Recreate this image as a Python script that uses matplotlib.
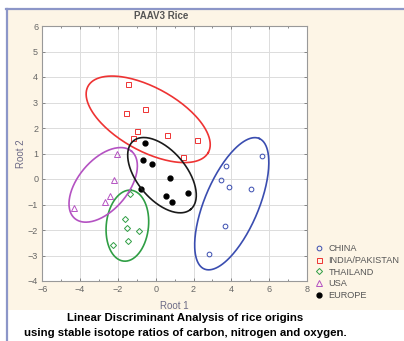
import matplotlib.pyplot as plt
import numpy as np
from matplotlib.patches import Rectangle
from matplotlib.lines import Line2D

plt.rcParams['font.family'] = ['Liberation Sans', 'DejaVu Sans']

# group scores on the two discriminant roots
china_x = [5.62, 3.72, 3.47, 3.88, 5.04, 3.68, 2.80]
china_y = [0.90, 0.50, -0.05, -0.31, -0.40, -1.83, -2.95]
india_x = [-1.48, -1.55, -0.56, -1.00, -1.18, 0.59, 2.20, 1.46]
india_y = [3.72, 2.60, 2.74, 1.88, 1.62, 1.71, 1.52, 0.87]
thai_x = [-1.34, -1.60, -1.51, -0.91, -1.49, -2.27]
thai_y = [-0.60, -1.55, -1.93, -2.05, -2.42, -2.57]
usa_x = [-2.04, -2.20, -2.40, -2.71, -4.32]
usa_y = [0.97, -0.05, -0.65, -0.92, -1.12]
europe_x = [-0.56, -0.70, -0.19, 0.75, -0.77, 0.54, 0.84, 1.72]
europe_y = [1.42, 0.76, 0.59, 0.04, -0.40, -0.66, -0.90, -0.56]

# confidence ellipses: centre and two conjugate half-axis vectors (data units)
ell_names = ['CHINA', 'INDIA/PAKISTAN', 'THAILAND', 'USA', 'EUROPE']
ell_center = [(4.02, -0.97), (-0.40, 2.34), (-1.50, -1.83), (-2.78, -0.23), (0.33, 0.15)]
ell_u = [(1.45, 2.56), (3.18, -1.30), (0.20, 1.39), (1.50, 1.32), (1.52, -1.34)]
ell_v = [(-1.32, 0.41), (0.81, 1.09), (-1.11, 0.09), (-1.01, 0.63), (0.99, 0.62)]

colors = ['#3a4db0', '#ee3333', '#2f9e44', '#b452c2', '#1a1a1a']
fig = plt.figure(figsize=(4.04, 3.41), dpi=100)
fig.patch.set_facecolor('white')

# cream panel with blue frame lines
fig.add_artist(Rectangle((8 / 404, 31 / 341), 396 / 404, 301 / 341, transform=fig.transFigure,
                         facecolor='#fdf5e6', edgecolor='none', zorder=0))
fig.add_artist(Line2D([6 / 404, 1], [332 / 341, 332 / 341], transform=fig.transFigure,
                      color='#8c96c8', lw=1.6))
fig.add_artist(Line2D([6.5 / 404, 6.5 / 404], [0, 332 / 341], transform=fig.transFigure,
                      color='#8c96c8', lw=1.6))

ax = fig.add_axes([42.3 / 404, 60 / 341, 264.7 / 404, 255 / 341])
ax.set_facecolor('white')

ax.plot(china_x, china_y, 'o', ms=3.4, mfc='none', mec=colors[0], mew=0.7, label='CHINA')
ax.plot(india_x, india_y, 's', ms=3.6, mfc='none', mec=colors[1], mew=0.7, label='INDIA/PAKISTAN')
ax.plot(thai_x, thai_y, 'D', ms=3.1, mfc='none', mec=colors[2], mew=0.7, label='THAILAND')
ax.plot(usa_x, usa_y, '^', ms=3.8, mfc='none', mec=colors[3], mew=0.7, label='USA')
ax.plot(europe_x, europe_y, 'o', ms=3.5, mfc='black', mec='black', label='EUROPE')

t = np.linspace(0, 2 * np.pi, 200)
for c, u, v, col in zip(ell_center, ell_u, ell_v, colors):
    ax.plot(c[0] + u[0] * np.cos(t) + v[0] * np.sin(t),
            c[1] + u[1] * np.cos(t) + v[1] * np.sin(t), color=col, lw=1.2)

ax.set_xlim(-6, 8)
ax.set_ylim(-4, 6)
ax.set_xticks(np.arange(-6, 9, 2))
ax.set_yticks(np.arange(-4, 7, 1))
ax.set_xticks(np.arange(-6, 9, 1), minor=True)
ax.grid(True, color='#dcdcdc', lw=0.7)
ax.set_axisbelow(True)
ax.tick_params(which='both', direction='in', top=True, right=True, length=2,
               width=0.6, color='#777777', labelsize=6.5, labelcolor='#666666', pad=3)
ax.tick_params(which='minor', length=1.5)
for s in ax.spines.values():
    s.set_color('#999999')
    s.set_linewidth(0.8)

ax.set_xlabel('Root 1', fontsize=7, color='#6c6a86', labelpad=5)
ax.set_ylabel('Root 2', fontsize=7, color='#6c6a86', labelpad=1)
ax.set_title('PAAV3 Rice', fontsize=7, fontweight='bold', color='#555555', pad=5, x=0.45)

ax.legend(loc='upper left', bbox_to_anchor=(1.012, 0.163), frameon=False, fontsize=6.6,
          handletextpad=0.5, labelspacing=0.3, handlelength=1.0, borderpad=0,
          labelcolor='#555555')

fig.text(185 / 404, 1 - 318 / 341, 'Linear Discriminant Analysis of rice origins',
         ha='center', va='center', fontsize=8.2, fontweight='bold')
fig.text(185 / 404, 1 - 333 / 341, 'using stable isotope ratios of carbon, nitrogen and oxygen.',
         ha='center', va='center', fontsize=8.2, fontweight='bold')

fig.savefig('out.png', dpi=100)
